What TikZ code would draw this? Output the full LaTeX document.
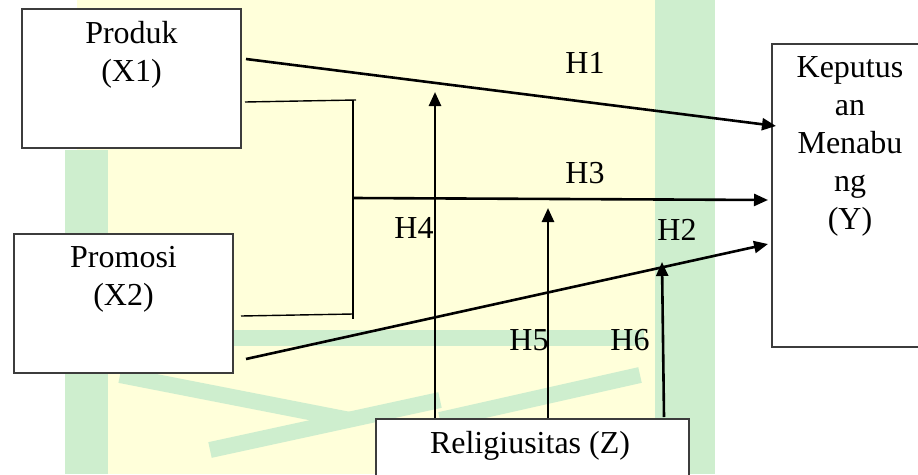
\documentclass[tikz,border=0pt]{standalone}
\usepackage{fontspec}
\setmainfont{Liberation Serif}
\usetikzlibrary{arrows.meta,positioning}
\definecolor{wmyellow}{RGB}{255,255,218}
\definecolor{wmgreen}{RGB}{206,238,206}
\definecolor{boxline}{RGB}{60,60,60}

\begin{document}
\begin{tikzpicture}[x=1pt,y=-1pt,->,>={Triangle[length=14pt,width=12pt]},line width=2.6pt,
  font=\fontsize{32}{38}\selectfont]
  \tikzstyle{every node}=[inner sep=0pt,align=center]
  \tikzstyle{var}=[draw=boxline,line width=1.3pt,fill=white]
  \tikzstyle{hyp}=[text=black]
  \tikzstyle{bracketline}=[-,line width=1.4pt]
\useasboundingbox (0,0) rectangle (918,474);
% watermark
\fill[wmyellow] (77,0) rectangle (715,474);
\fill[wmgreen] (65,150) rectangle (108,474);
\fill[wmgreen] (655,0) rectangle (715,474);
\draw[-,wmgreen,line width=16pt] (234,338) -- (644,338);
\draw[-,wmgreen,line width=16pt] (120,375) -- (350,420);
\draw[-,wmgreen,line width=16pt] (210,450) -- (440,400);
\draw[-,wmgreen,line width=16pt] (640,375) -- (440,420);
% boxes
\node[var,minimum width=219,minimum height=139] (X1) at (131.5,78.5) {};
\node[var,minimum width=219,minimum height=139] (X2) at (123.5,303.5) {};
\node[var,minimum width=148,minimum height=303] (Y) at (846,195.5) {};
\node[var,minimum width=313,minimum height=70] (Z) at (532.5,454) {};
\node[anchor=north] at (131.5,20) {Produk\\(X1)};
\node[anchor=north] at (123.5,245) {Promosi\\(X2)};
\node[anchor=north] at (850,55) {Keputus\\an\\Menabu\\ng\\(Y)};
\node[anchor=north] at (530,430) {Religiusitas\ (Z)};
% connectors
\coordinate (p1) at (246,59);
\coordinate (y1) at (776,126);
\coordinate (p2) at (246,359);
\coordinate (y2) at (768,244);
\coordinate (m) at (353,198);
\coordinate (y3) at (768,200);
\draw[bracketline] (245,102) -- (356,100);
\draw[bracketline] (241,316) -- (353,314);
\draw[bracketline] (353,100) -- (353,319);
\draw (p1) -- (y1);
\draw (m) -- (y3);
\draw (p2) -- (y2);
\draw (Z.north -| 435,0) -- (435,92);
\draw (Z.north -| 548,0) -- (548,208);
\draw (664,417) -- (662,262);
% labels
\node[hyp] at (585,63) {H1};
\node[hyp] at (585,173) {H3};
\node[hyp] at (677,230) {H2};
\node[hyp] at (414,228) {H4};
\node[hyp] at (529,340) {H5};
\node[hyp] at (630,340) {H6};
\end{tikzpicture}
\end{document}
